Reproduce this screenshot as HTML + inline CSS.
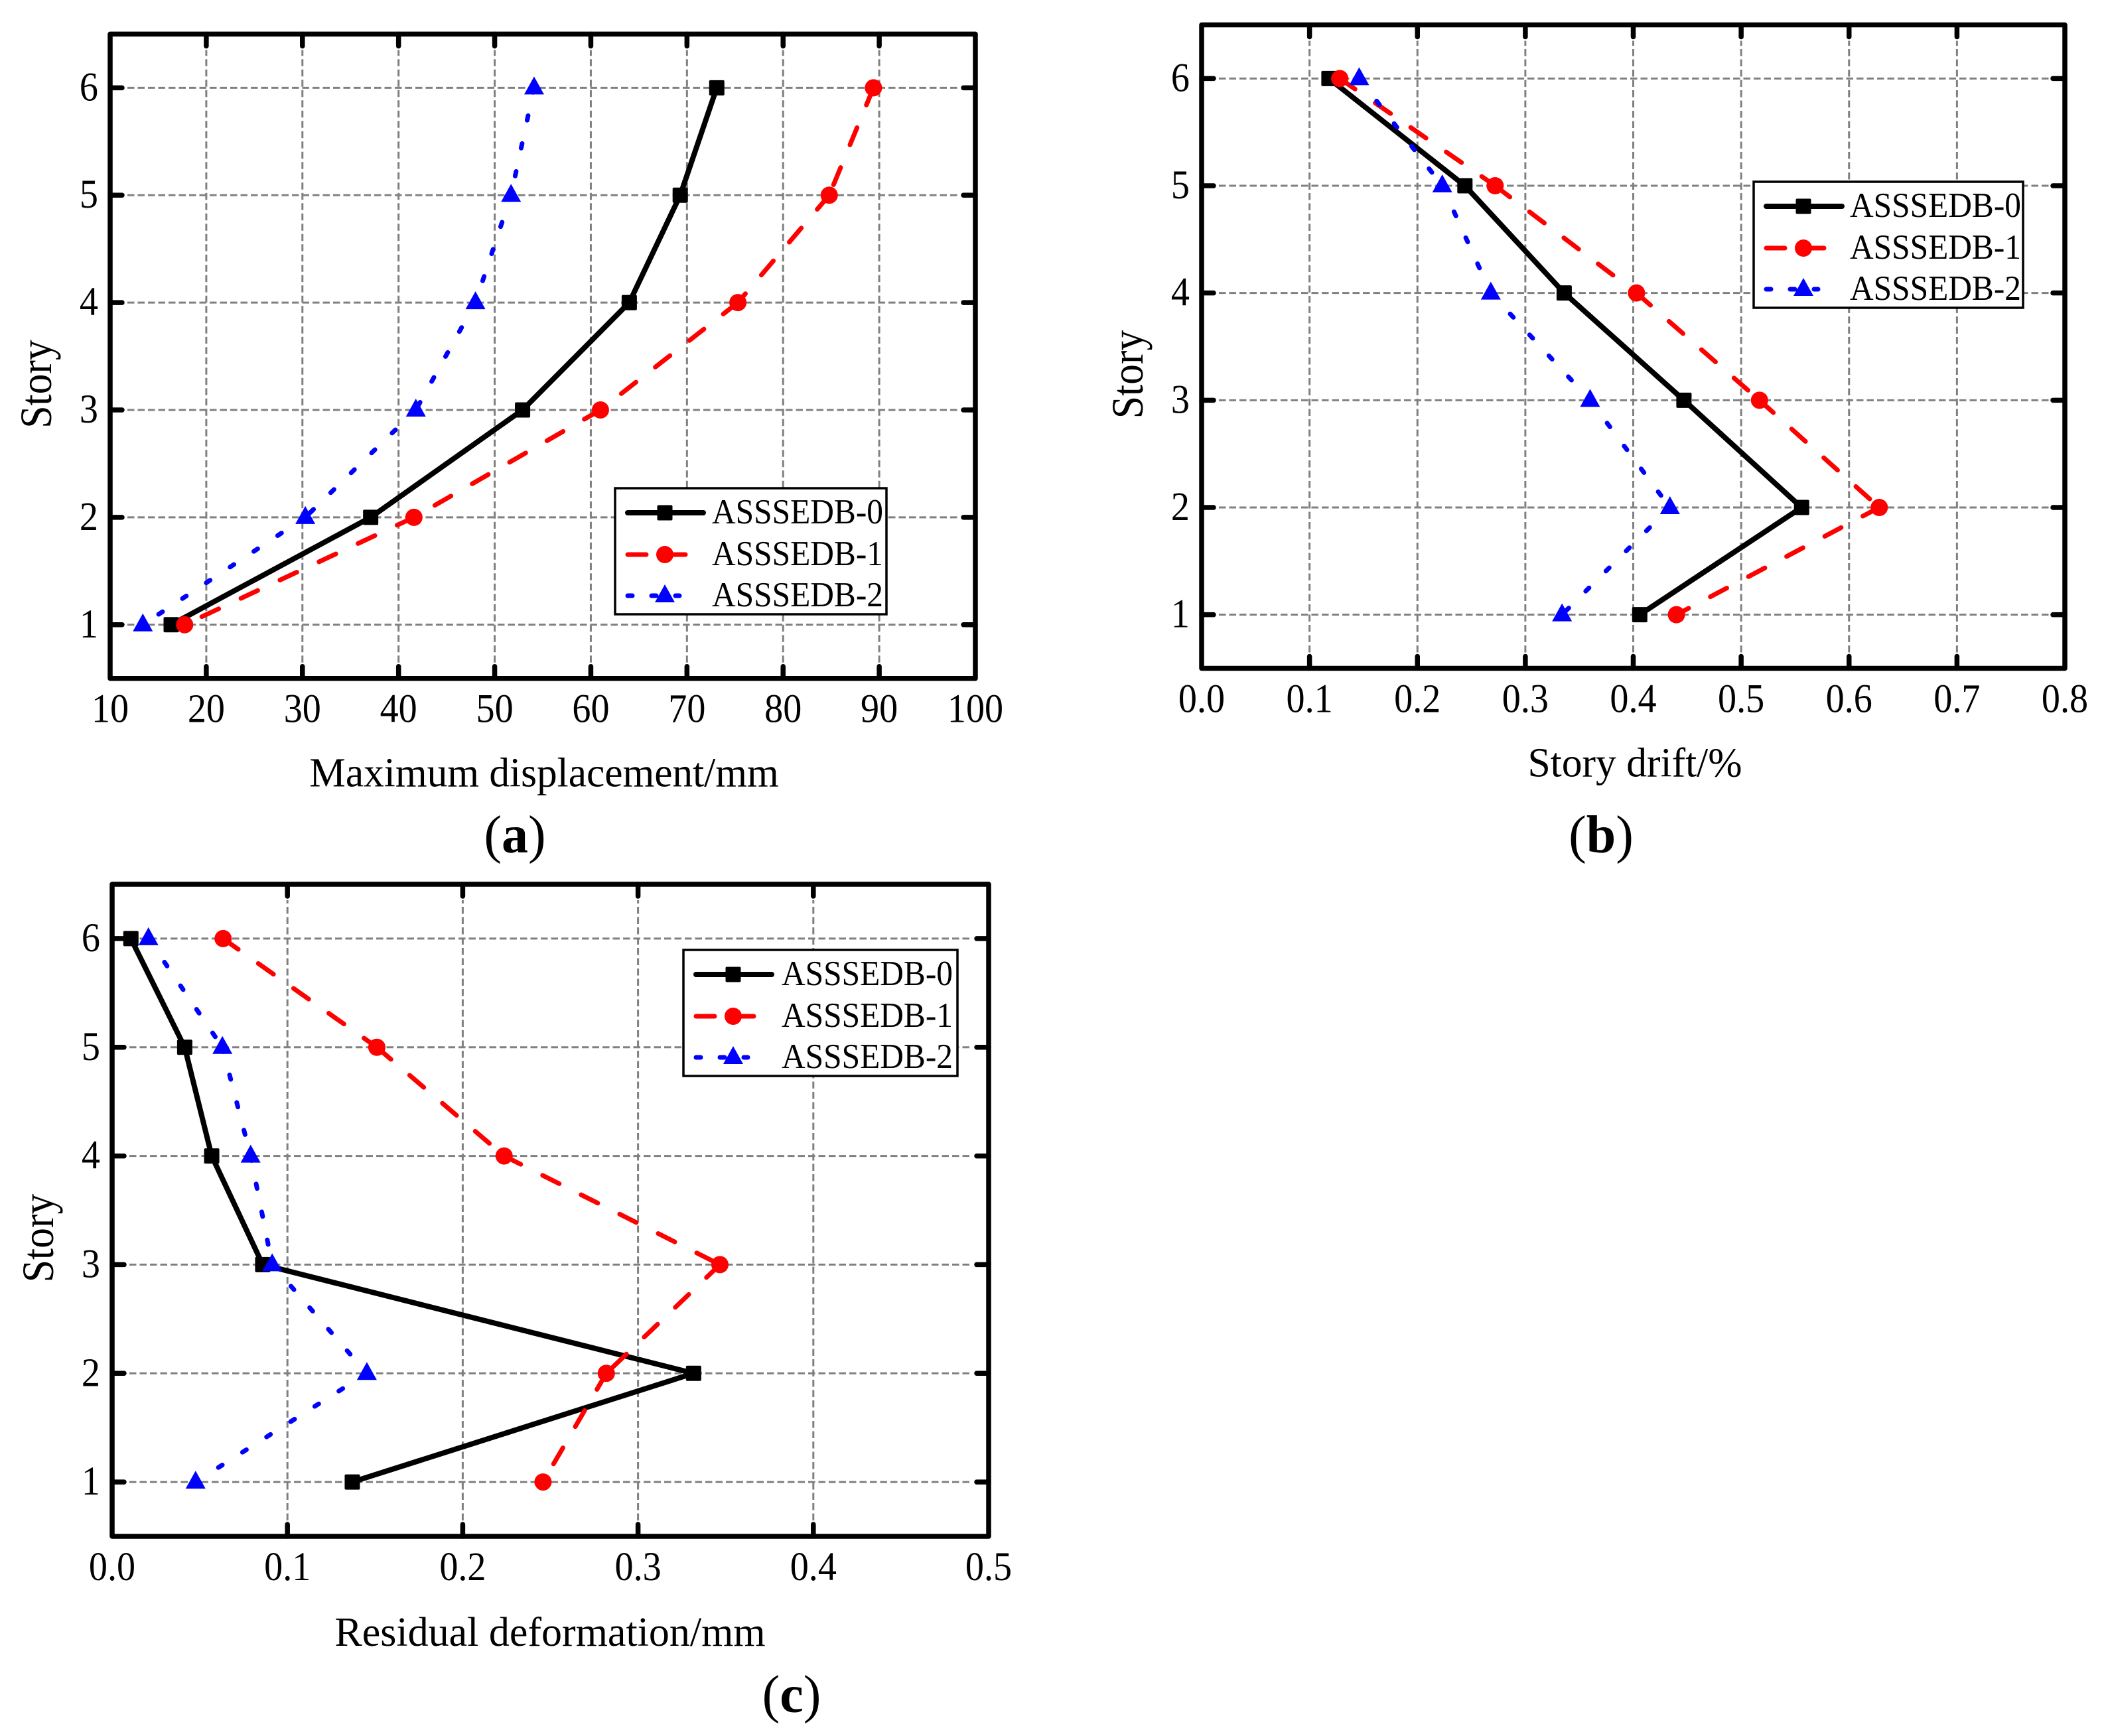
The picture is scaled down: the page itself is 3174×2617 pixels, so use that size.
<!DOCTYPE html>
<html lang="en">
<head>
<meta charset="utf-8">
<title>Story response charts</title>
<style>
html,body{margin:0;padding:0;background:#fff;}
svg{display:block;}
text{font-family:"Liberation Serif",serif;fill:#000;}
</style>
</head>
<body>
<svg id="figure" xmlns="http://www.w3.org/2000/svg" width="3174" height="2617" viewBox="0 0 3174 2617"></svg>
<script>
// ---- shared data ----
const storyValues = [1, 2, 3, 4, 5, 6];
const storyTickLabels = ['1', '2', '3', '4', '5', '6'];
const seriesNames = ['ASSSEDB-0', 'ASSSEDB-1', 'ASSSEDB-2'];

// ---- panel (a) ----
const aXTicks = [10, 20, 30, 40, 50, 60, 70, 80, 90, 100];
const aXTickLabels = ['10', '20', '30', '40', '50', '60', '70', '80', '90', '100'];
const aSeries0 = [16.35, 37.1, 52.9, 64, 69.3, 73.1];
const aSeries1 = [17.75, 41.6, 61, 75.3, 84.8, 89.4];
const aSeries2 = [13.4, 30.3, 41.8, 48, 51.7, 54.1];

// ---- panel (b) ----
const bXTicks = [0, 0.1, 0.2, 0.3, 0.4, 0.5, 0.6, 0.7, 0.8];
const bXTickLabels = ['0.0', '0.1', '0.2', '0.3', '0.4', '0.5', '0.6', '0.7', '0.8'];
const bSeries0 = [0.406, 0.556, 0.447, 0.336, 0.244, 0.118];
const bSeries1 = [0.44, 0.628, 0.517, 0.403, 0.272, 0.128];
const bSeries2 = [0.334, 0.434, 0.36, 0.268, 0.223, 0.146];

// ---- panel (c) ----
const cXTicks = [0, 0.1, 0.2, 0.3, 0.4, 0.5];
const cXTickLabels = ['0.0', '0.1', '0.2', '0.3', '0.4', '0.5'];
const cSeries0 = [0.137, 0.3317, 0.0859, 0.0568, 0.0414, 0.0107];
const cSeries1 = [0.2458, 0.2819, 0.3467, 0.2236, 0.151, 0.0633];
const cSeries2 = [0.0476, 0.1453, 0.0913, 0.079, 0.0629, 0.0207];

const NS = 'http://www.w3.org/2000/svg';
const root = document.getElementById('figure');

function mk(parent, tag, attrs) {
  const el = document.createElementNS(NS, tag);
  for (const k in attrs) el.setAttribute(k, attrs[k]);
  parent.appendChild(el);
  return el;
}
function txt(parent, x, y, str, size, anchor, sx, rot) {
  const t = 'translate(' + x + ',' + y + ')' + (rot ? ' rotate(' + rot + ')' : '') + ' scale(' + sx + ',1)';
  const el = mk(parent, 'text', { transform: t, 'font-size': size, 'text-anchor': anchor });
  el.textContent = str;
  return el;
}
const seriesStyles = [
  { color: '#000', dash: null, width: 8 },
  { color: '#f00', dash: '28 37', width: 7 },
  { color: '#00f', dash: '7 36', width: 7 }
];
function marker(parent, kind, cx, cy) {
  if (kind === 0) return mk(parent, 'rect', { x: cx - 11.5, y: cy - 11.5, width: 23, height: 23, rx: 2, fill: '#000' });
  if (kind === 1) return mk(parent, 'circle', { cx: cx, cy: cy, r: 13, fill: '#f00' });
  return mk(parent, 'polygon', { points: (cx - 15) + ',' + (cy + 10) + ' ' + cx + ',' + (cy - 17) + ' ' + (cx + 15) + ',' + (cy + 10), fill: '#00f' });
}

function drawPanel(p, xTicks, xLabels, series) {
  const g = mk(root, 'g', {});
  
  

  const xMin = xTicks[0], xMax = xTicks[xTicks.length - 1];
  const xScale = v => p.left + (v - xMin) / (xMax - xMin) * (p.right - p.left);
  const yScale = v => p.bottom - (v - 0.5) / 6 * (p.bottom - p.top);

  // grid
  const gridG = mk(g, 'g', { stroke: '#808080', 'stroke-width': 3, 'stroke-dasharray': '10.5 5', fill: 'none' });
  
  
  xTicks.slice(1, -1).forEach(v => {
    const ln = mk(gridG, 'line', { x1: xScale(v), x2: xScale(v), y1: p.bottom - 24, y2: p.top + 24 });
    
    
  });
  storyValues.forEach(v => {
    const ln = mk(gridG, 'line', { x1: p.left + 26, x2: p.right - 24, y1: yScale(v), y2: yScale(v) });
    
    
  });

  // ticks
  const tickG = mk(g, 'g', { stroke: '#000', 'stroke-width': 7.5, 'stroke-linecap': 'round', fill: 'none' });
  
  
  xTicks.slice(1, -1).forEach(v => {
    const x = xScale(v);
    mk(tickG, 'line', { x1: x, x2: x, y1: p.bottom, y2: p.bottom - 18 });
    mk(tickG, 'line', { x1: x, x2: x, y1: p.top, y2: p.top + 18 });
  });
  storyValues.forEach(v => {
    const y = yScale(v);
    mk(tickG, 'line', { x1: p.left, x2: p.left + 18, y1: y, y2: y });
    mk(tickG, 'line', { x1: p.right, x2: p.right - 18, y1: y, y2: y });
  });

  // series: each segment is drawn from the upper story down, so the dash pattern restarts at every point
  series.forEach((vals, i) => {
    const st = seriesStyles[i];
    const sg = mk(g, 'g', {});
    
    
    let d = '';
    for (let k = vals.length - 1; k > 0; k--) {
      d += 'M' + xScale(vals[k]) + ' ' + yScale(storyValues[k]) + 'L' + xScale(vals[k - 1]) + ' ' + yScale(storyValues[k - 1]);
    }
    const attrs = { d: d, fill: 'none', stroke: st.color, 'stroke-width': st.width, 'stroke-linecap': 'round' };
    if (st.dash) attrs['stroke-dasharray'] = st.dash;
    const line = mk(sg, 'path', attrs);
    
    
    vals.forEach((v, k) => {
      const m = marker(sg, i, xScale(v), yScale(storyValues[k]));
      
      
    });
  });

  // frame
  const frame = mk(g, 'rect', { x: p.left, y: p.top, width: p.right - p.left, height: p.bottom - p.top, fill: 'none', stroke: '#000', 'stroke-width': 7.5, 'stroke-linejoin': 'round' });
  
  

  // tick labels
  xTicks.forEach((v, i) => {
    const t = txt(g, xScale(v), p.bottom + 66, xLabels[i], 61, 'middle', 0.92);
    
    
  });
  storyValues.forEach((v, i) => {
    const t = txt(g, p.left - 18, yScale(v) + 19, storyTickLabels[i], 61, 'end', 0.92);
    
    
  });

  // axis titles
  const xt = txt(g, p.xTitleX, p.bottom + p.xTitleDy, p.xTitle, 62, 'middle', p.xTitleSx);
  
  
  const yt = txt(g, p.left - 89, (p.top + p.bottom) / 2 + 42, 'Story', 68, 'middle', 0.906, -90);
  
  

  // legend
  const lg = mk(g, 'g', {});
  
  
  const box = mk(lg, 'rect', { x: p.legX, y: p.legY, width: p.legW, height: 190, fill: '#fff', stroke: '#000', 'stroke-width': 3.5 });
  
  
  const rows = [37, 100, 162];
  const legEnds = [[p.legX + 16, p.legX + 136], [p.legX + 16, p.legX + 109], [p.legX + 16, p.legX + 100]];
  seriesNames.forEach((nm, i) => {
    const ey = p.legY + rows[i];
    const eg = mk(lg, 'g', {});
    
    
    const a = { x1: legEnds[i][0] + 3, x2: legEnds[i][1] - 3, y1: ey, y2: ey, stroke: seriesStyles[i].color, 'stroke-width': i === 0 ? 8 : 7, 'stroke-linecap': 'round' };
    if (i === 1) a['stroke-dasharray'] = '28 32';
    if (i === 2) a['stroke-dasharray'] = '7 29';
    mk(eg, 'line', a);
    marker(eg, i, p.legX + 75, ey);
    const t = mk(eg, 'text', { x: p.legX + p.legTextDx, y: ey + 16, 'font-size': 53, textLength: 258, lengthAdjust: 'spacingAndGlyphs' });
    t.textContent = nm;
  });

  // panel letter
  const cap = mk(g, 'text', { x: p.capX, y: p.capY, 'font-size': 80, 'text-anchor': 'middle' });
  
  
  cap.appendChild(document.createTextNode('('));
  const bold = mk(cap, 'tspan', { 'font-weight': 'bold' });
  bold.textContent = p.capLetter;
  cap.appendChild(document.createTextNode(')'));
}

drawPanel({
  name: 'panel-a-maximum-displacement', left: 166, right: 1470, top: 51.4, bottom: 1022.7,
  xTitle: 'Maximum displacement/mm', xTitleX: 820, xTitleDy: 163, xTitleSx: 0.99,
  legX: 927, legY: 736, legW: 409, legTextDx: 146, capX: 776, capY: 1285, capLetter: 'a'
}, aXTicks, aXTickLabels, [aSeries0, aSeries1, aSeries2]);

drawPanel({
  name: 'panel-b-story-drift', left: 1811, right: 3112, top: 37.5, bottom: 1007.5,
  xTitle: 'Story drift/%', xTitleX: 2464, xTitleDy: 163, xTitleSx: 0.993,
  legX: 2643, legY: 274, legW: 406, legTextDx: 145, capX: 2413, capY: 1285, capLetter: 'b'
}, bXTicks, bXTickLabels, [bSeries0, bSeries1, bSeries2]);

drawPanel({
  name: 'panel-c-residual-deformation', left: 169, right: 1490, top: 1333, bottom: 2316,
  xTitle: 'Residual deformation/mm', xTitleX: 829, xTitleDy: 165, xTitleSx: 1.0,
  legX: 1030, legY: 1432, legW: 413, legTextDx: 148, capX: 1193, capY: 2581, capLetter: 'c'
}, cXTicks, cXTickLabels, [cSeries0, cSeries1, cSeries2]);
</script>
</body>
</html>
